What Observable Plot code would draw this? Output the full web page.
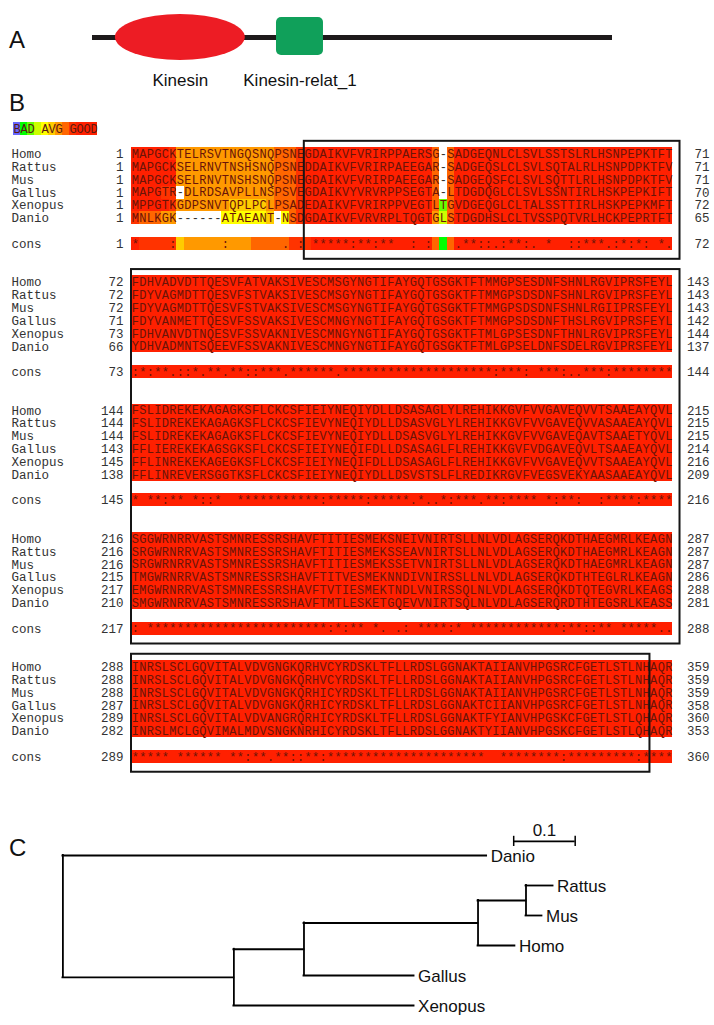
<!DOCTYPE html>
<html><head><meta charset="utf-8">
<script src="https://cdn.jsdelivr.net/npm/d3@7"></script>
<script src="https://cdn.jsdelivr.net/npm/@observablehq/plot@0.6"></script>
<style>
body{margin:0;background:#fff;}
#fig{position:relative;width:714px;height:1025px;overflow:hidden;background:#fff;font-family:"Liberation Sans",Arial,sans-serif;}
.panel{position:absolute;left:0;}
.panel svg{display:block;overflow:visible;}
.letter{position:absolute;font-size:24px;color:#111;line-height:1;font-family:"Liberation Sans",Arial,sans-serif;}
</style></head><body>
<div id="fig">
  <div class="letter" style="left:9px;top:28px">A</div>
  <div class="letter" style="left:9px;top:91px">B</div>
  <div class="letter" style="left:9px;top:836px">C</div>
  <div class="panel" id="panelA" style="top:0px"></div>
  <div class="panel" id="legend" style="top:121px"></div>
  <div class="panel" id="align" style="top:120px"></div>
  <div class="panel" id="tree" style="top:790px"></div>
</div>
<script>
// ---------------- Panel A data ----------------
const proteinLength = 1317;
const domainNames = ["Kinesin", "Kinesin-relat_1"];
const domainStarts = [58, 466];
const domainEnds = [387, 585];

// ---------------- Panel B data ----------------
const species = ["Homo", "Rattus", "Mus", "Gallus", "Xenopus", "Danio"];
const block1 = [
  "MAPGCKTELRSVTNGQSNQPSNEGDAIKVFVRIRPPAERSG-SADGEQNLCLSVLSSTSLRLHSNPEPKTFT",
  "MAPGCKSELRNVTNSHSNQPSNEDDAIKVFVRIRPAEEGAR-SADGEQSLCLSVLSQTALRLHSNPDPKTFV",
  "MAPGCKSELRNVTNSHSNQPSNEGDAIKVFVRIRPAEEGAR-SADGEQSFCLSVLSQTTLRLHSNPDPKTFV",
  "MAPGTR-DLRDSAVPLLNSPSVEGDAIKVYVRVRPPSEGTA-LTDGDQGLCLSVLSSNTIRLHSKPEPKIFT",
  "MPPGTKGDPSNVTQPLPCLPSADEDAIKVFVRIRPPVEGTLTGVDGEQGLCLTALSSTTIRLHSKPEPKMFT",
  "MNLKGK------ATAEANT-NSDGDAIKVFVRVRPLTQGTGLSTDGDHSLCLTVSSPQTVRLHCKPEPRTFT"
];
const block2 = [
  "FDHVADVDTTQESVFATVAKSIVESCMSGYNGTIFAYGQTGSGKTFTMMGPSESDNFSHNLRGVIPRSFEYL",
  "FDYVAGMDTTQESVFSTVAKSIVESCMSGYNGTIFAYGQTGSGKTFTMMGPSDSDNFSHNLRGVIPRSFEYL",
  "FDYVAGMDTTQESVFSTVAKSIVESCMSGYNGTIFAYGQTGSGKTFTMMGPSDSDNFSHNLRGIIPRSFEYL",
  "FDYVANMETTQESVFSSVAKSIVESCMNGYNGTIFAYGQTGSGKTFTMMGPSDSDNFTHSLRGVIPRSFEYL",
  "FDHVANVDTNQESVFSSVAKNIVESCMNGYNGTIFAYGQTGSGKTFTMLGPSESDNFTHNLRGVIPRSFEYL",
  "YDHVADMNTSQEEVFSSVAKNIVESCMNGYNGTIFAYGQTGSGKTFTMLGPSELDNFSDELRGVIPRSFEYL"
];
const block3 = [
  "FSLIDREKEKAGAGKSFLCKCSFIEIYNEQIYDLLDSASAGLYLREHIKKGVFVVGAVEQVVTSAAEAYQVL",
  "FSLIDREKEKAGAGKSFLCKCSFIEVYNEQIYDLLDSASVGLYLREHIKKGVFVVGAVEQVVASAAEAYQVL",
  "FSLIDREKEKAGAGKSFLCKCSFIEVYNEQIYDLLDSASVGLYLREHIKKGVFVVGAVEQAVTSAAETYQVL",
  "FFLIEREKEKAGSGKSFLCKCSFIEIYNEQIFDLLDSASAGLFLREHIKKGVFVDGAVEQVLTSAAEAYQVL",
  "FFLINREKEKAGEGKSFLCKCSFIEIYNEQIFDLLDSASAGLFLREHIKKGVFVVGAVEQVVTSAAEAYQVL",
  "FFLINREVERSGGTKSFLCKCSFIEIYNEQIYDLLDSVSTSLFLREDIKRGVFVEGSVEKYAASAAEAYQVL"
];
const block4 = [
  "SGGWRNRRVASTSMNRESSRSHAVFTITIESMEKSNEIVNIRTSLLNLVDLAGSERQKDTHAEGMRLKEAGN",
  "SRGWRNRRVASTSMNRESSRSHAVFTITIESMEKSSEAVNIRTSLLNLVDLAGSERQKDTHAEGMRLKEAGN",
  "SRGWRNRRVASTSMNRESSRSHAVFTITIESMEKSSETVNIRTSLLNLVDLAGSERQKDTHAEGMRLKEAGN",
  "TMGWRNRRVASTSMNRESSRSHAVFTITVESMEKNNDIVNIRSSLLNLVDLAGSERQKDTHTEGLRLKEAGN",
  "EMGWRNRRVASTSMNRESSRSHAVFTVTIESMEKTNDLVNIRSSQLNLVDLAGSERQKDTQTEGVRLKEAGS",
  "SMGWRNRRVASTSMNRESSRSHAVFTMTLESKETGQEVVNIRTSQLNLVDLAGSERQRDTHTEGSRLKEASS"
];
const block5 = [
  "INRSLSCLGQVITALVDVGNGKQRHVCYRDSKLTFLLRDSLGGNAKTAIIANVHPGSRCFGETLSTLNHAQR",
  "INRSLSCLGQVITALVDVGNGKQRHVCYRDSKLTFLLRDSLGGNAKTAIIANVHPGSRCFGETLSTLNHAQR",
  "INRSLSCLGQVITALVDVGNGKQRHICYRDSKLTFLLRDSLGGNAKTAIIANVHPGSRCFGETLSTLNHAQR",
  "INRSLSCLGQVITALVDVGNGKQRHICYRDSKLTFLLRDSLGGNAKTCIIANVHPGSRCFGETLSTLNHAQR",
  "INRSLSCLGQVITALVDVANGRQRHICYRDSKLTFLLRDSLGGNAKTFYIANVHPGSKCFGETLSTLQHAQR",
  "INRSLMCLGQVIMALMDVSNGKNRHICYRDSKLTFLLRDSLGGNAKTYIIANVHPGSKCFGETLSTLQHAQR"
];
const consensus = [
  "*    :      :       . : " + "*****:**:**  : :   " + ".**::.:**:. *  ::***.:*:*: *.",
  ":*:**.::*.**.**::***.******." + "********************" + ":***: ***:..***:********",
  "* **:** *::*  ***********:*****" + ":*****.*..*:***.**:**** *:**:  :****:****",
  ": " + "************************" + ":*:** *. .: ****:* ************:**::** *****..",
  "***** ****** **:**.**::**:" + "*********************" + "  ********:*********:****"
];
const startNumbers = [[1,1,1,1,1,1],[72,72,72,71,73,66],[144,144,144,143,145,138],[216,216,216,215,217,210],[288,288,288,287,289,282]];
const endNumbers = [[71,71,71,70,72,65],[143,143,143,142,144,137],[215,215,215,214,216,209],[287,287,287,286,288,281],[359,359,359,358,360,353]];
const consStart = [1, 73, 145, 217, 289];
const consEnd = [72, 144, 216, 288, 360];

const block1Scores = [
  "999998" + "6666666666666" + "777" + "8" + "9999999999" + "9999999" + "7-7" + "9999999999" + "9999999999" + "999999999",
  "999999" + "6666666666666" + "777" + "8" + "9999999999" + "9999999" + "7-7" + "9999999999" + "9999999999" + "999999999",
  "999999" + "6666666666666" + "777" + "8" + "9999999999" + "9999999" + "7-7" + "9999999999" + "9999999999" + "999999999",
  "999988" + "-" + "666666666666" + "777" + "8" + "9999999999" + "9999999" + "7-7" + "9999999999" + "9999999999" + "999999999",
  "999998" + "6666666" + "55555" + "6" + "777" + "8" + "9999999999" + "9999999" + "727" + "9999999999" + "9999999999" + "999999999",
  "877766" + "------" + "4444445" + "-" + "4" + "7" + "8" + "9999999999" + "9999999" + "637" + "9999999999" + "9999999999" + "999999999"
];
const block1ConsScores = "9" + "88888" + "5" + "666666666" + "77777" + "88" + "8" + "9999999999" + "999999" + "717" + "9999999999" + "9999999999" + "999999999";
const otherBlocksScore = 9; // blocks 2-5 are uniformly "GOOD" (red)
const scoreColors = ["#6666ff","#00ff00","#66ff00","#ccff00","#ffff00","#ffcc00","#ff9900","#ff6600","#ff3300","#ff2000"];
const legendText = "BAD AVG GOOD";
const legendScores = [0,1,2,3,4,5,6,7,8,9,9,9];

// conserved-region boxes (block range, column edges)
const boxFromBlock = [1, 2, 5];
const boxToBlock = [1, 4, 5];
const boxFromEdge = [23, 0, 0];
const boxToEdge = [73, 73, 69];

// ---------------- Panel C data ----------------
const nodeIds = ["root","Danio","n1","Xenopus","n2","Gallus","n3","Homo","n4","Rattus","Mus"];
const nodeParents = [null,"root","root","n1","n1","n2","n2","n3","n3","n4","n4"];
const branchLengths = [0,0.689,0.278,0.293,0.114,0.179,0.283,0.060,0.078,0.044,0.026];
const leafOrder = ["Danio","Rattus","Mus","Homo","Gallus","Xenopus"];
const scaleBarLength = 0.1;

// ================= Panel A =================
const domains = domainNames.map((name, i) => ({name, start: domainStarts[i], end: domainEnds[i]}));
const panelA = Plot.plot({
  width: 714, height: 95, marginLeft: 92, marginRight: 102, marginTop: 14, marginBottom: 35,
  x: {domain: [0, proteinLength], axis: null},
  marks: [
    Plot.barX([{start: 0, end: proteinLength}], {x1: "start", x2: "end", insetTop: 21, insetBottom: 20, fill: "#1e1a1b"}),
    Plot.barX(domains.filter(d => d.name === "Kinesin"), {x1: "start", x2: "end", fill: "#ed1c24", rx: 500, ry: 500}),
    Plot.barX(domains.filter(d => d.name !== "Kinesin"), {x1: "start", x2: "end", fill: "#10a05a", insetTop: 3, insetBottom: 5, rx: 5, ry: 5}),
    Plot.text(domains, {x: d => (d.start + d.end) / 2, text: "name", dy: 43, fontSize: 17, fill: "#111", fontFamily: "Liberation Sans, Arial, sans-serif"})
  ]
});
document.getElementById("panelA").appendChild(panelA);

// ================= Legend =================
const legendCells = legendText.split("").map((ch, i) => ({i, ch, score: legendScores[i]}));
const legend = Plot.plot({
  width: 112, height: 16, marginLeft: 10, marginRight: 12, marginTop: 1, marginBottom: 2,
  x: {type: "band", domain: legendCells.map(d => d.i), padding: 0, axis: null},
  color: {type: "ordinal", domain: [0,1,2,3,4,5,6,7,8,9], range: scoreColors},
  marks: [
    Plot.cell(legendCells, {x: "i", fill: "score", inset: 0, shapeRendering: "crispEdges"}),
    Plot.text(legendCells, {x: "i", text: "ch", fontFamily: "Liberation Mono, Courier New, monospace", fontSize: 12, fill: "#5a1a10"})
  ]
});
document.getElementById("legend").appendChild(legend);

// ================= Alignment =================
const blocks = [block1, block2, block3, block4, block5];
const cells = [];
const labels = [];
blocks.forEach((rows, b) => {
  rows.forEach((seq, k) => {
    for (let i = 0; i < seq.length; i++) {
      const ch = seq[i];
      let sc = otherBlocksScore;
      if (b === 0) { const s = block1Scores[k][i]; sc = (s === undefined || s === "-") ? 9 : +s; }
      cells.push({row: b * 10 + k, col: i + 1, ch, score: ch === "-" ? null : sc});
    }
    labels.push({row: b * 10 + k, name: species[k], start: startNumbers[b][k], end: endNumbers[b][k]});
  });
  const cons = consensus[b];
  for (let i = 0; i < 72; i++) {
    let sc = otherBlocksScore;
    if (b === 0) { const s = block1ConsScores[i]; sc = s === undefined ? 9 : +s; }
    cells.push({row: b * 10 + 7, col: i + 1, ch: cons[i] || " ", score: sc});
  }
  labels.push({row: b * 10 + 7, name: "cons", start: consStart[b], end: consEnd[b]});
});
const boxes = boxFromBlock.map((fb, i) => ({
  y1: (fb - 1) * 10 - 1, y2: (boxToBlock[i] - 1) * 10 + 8.2, x1: boxFromEdge[i], x2: boxToEdge[i]
}));
const mono = "Liberation Mono, Courier New, monospace";
const align = Plot.plot({
  width: 714, height: 672, marginTop: 8, marginBottom: 10, marginLeft: 131, marginRight: 42,
  x: {domain: [0, 72], axis: null},
  y: {domain: [-2, 49], reverse: true, axis: null},
  color: {type: "ordinal", domain: [0,1,2,3,4,5,6,7,8,9], range: scoreColors},
  marks: [
    Plot.rect(cells.filter(d => d.score != null), {x1: d => d.col - 1, x2: d => d.col, y1: d => d.row - 0.5, y2: d => d.row + 0.5, fill: "score", shapeRendering: "crispEdges"}),
    Plot.text(cells.filter(d => d.ch !== " "), {x: d => d.col - 0.5, y: "row", text: "ch", fontFamily: mono, fontSize: 12, fill: d => d.ch === "-" ? "#333" : "#6a1408"}),
    Plot.text(labels, {y: "row", text: "name", frameAnchor: "left", dx: -120, textAnchor: "start", fontFamily: mono, fontSize: 12.5, fill: "#333"}),
    Plot.text(labels, {y: "row", text: "start", frameAnchor: "left", dx: -8, textAnchor: "end", fontFamily: mono, fontSize: 12.5, fill: "#333"}),
    Plot.text(labels, {y: "row", text: "end", frameAnchor: "right", dx: 37, textAnchor: "end", fontFamily: mono, fontSize: 12.5, fill: "#333"}),
    Plot.rect(boxes, {x1: "x1", x2: "x2", y1: "y1", y2: "y2", fill: "none", stroke: "#151515", strokeWidth: 2})
  ]
});
document.getElementById("align").appendChild(align);

// ================= Tree =================
const X = {}, Y = {}, children = {};
nodeIds.forEach((id, i) => {
  const p = nodeParents[i];
  X[id] = p == null ? 0 : X[p] + branchLengths[i];
  if (p != null) (children[p] = children[p] || []).push(id);
});
for (let i = nodeIds.length - 1; i >= 0; i--) {
  const id = nodeIds[i];
  if (children[id]) Y[id] = d3.mean(children[id], c => Y[c]);
  else Y[id] = leafOrder.indexOf(id);
}
const branches = nodeIds.map((id, i) => ({id, parent: nodeParents[i]})).filter(d => d.parent != null)
  .map(d => ({x0: X[d.parent], x: X[d.id], y: Y[d.id]}));
const verticals = Object.keys(children).map(id => ({x: X[id], y1: d3.min(children[id], c => Y[c]), y2: d3.max(children[id], c => Y[c])}));
const leaves = leafOrder.map(id => ({id, x: X[id], y: Y[id]}));
const barStart = 0.733, barRow = -0.47;
const tree = Plot.plot({
  width: 714, height: 235, marginLeft: 62.4, marginRight: 36.6, marginTop: 65, marginBottom: 20,
  x: {domain: [0, 1], axis: null},
  y: {domain: [0, 5], reverse: true, axis: null},
  marks: [
    Plot.ruleY(branches, {y: "y", x1: "x0", x2: "x", stroke: "#000", strokeWidth: 1.8, strokeLinecap: "square"}),
    Plot.ruleX(verticals, {x: "x", y1: "y1", y2: "y2", stroke: "#000", strokeWidth: 1.8, strokeLinecap: "square"}),
    Plot.text(leaves, {x: "x", y: "y", text: "id", dx: 4, dy: 1, textAnchor: "start", fontSize: 17, fill: "#111", fontFamily: "Liberation Sans, Arial, sans-serif"}),
    Plot.ruleY([scaleBarLength], {y: barRow, x1: barStart, x2: d => barStart + d, stroke: "#000", strokeWidth: 1.8}),
    Plot.ruleX([barStart, barStart + scaleBarLength], {x: d => d, y1: barRow - 0.17, y2: barRow + 0.17, stroke: "#000", strokeWidth: 1.5}),
    Plot.text([scaleBarLength], {x: d => barStart + d / 2, y: barRow, text: d => String(d), dy: -11, fontSize: 17, fill: "#111", fontFamily: "Liberation Sans, Arial, sans-serif"})
  ]
});
document.getElementById("tree").appendChild(tree);
</script>
</body></html>
